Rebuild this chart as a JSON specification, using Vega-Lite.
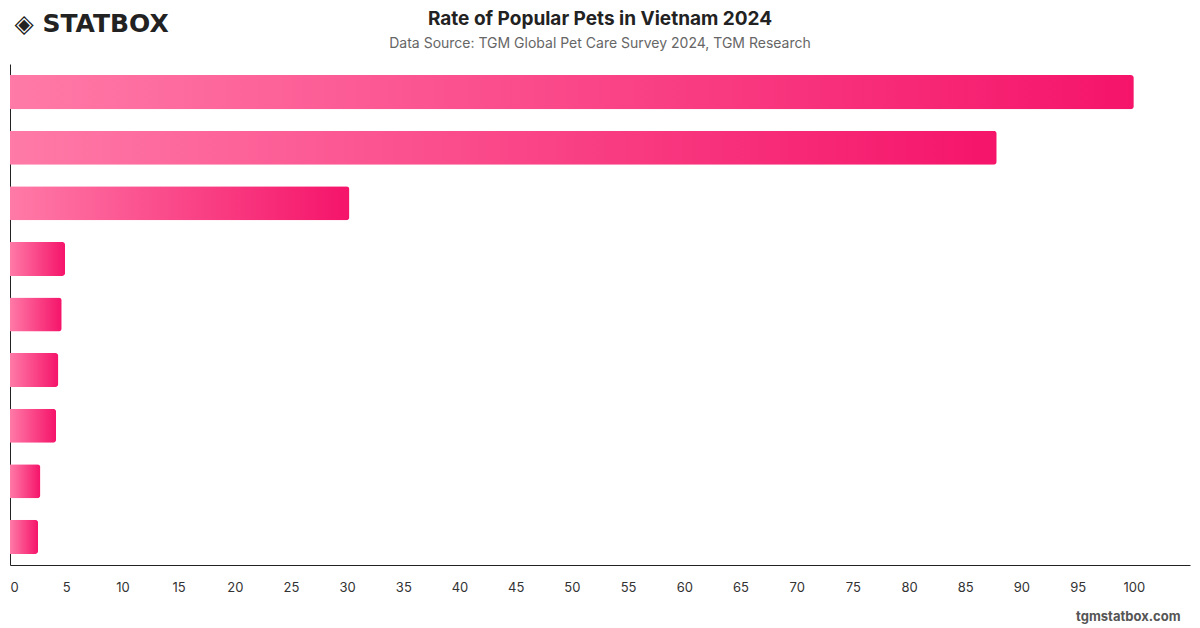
{
  "$schema": "https://vega.github.io/schema/vega-lite/v6.json",
  "width": 1180,
  "height": 501,
  "autosize": {"type": "none"},
  "padding": {"left": 10, "top": 64, "right": 10, "bottom": 63},
  "background": "white",
  "title": {
    "text": "Rate of Popular Pets in Vietnam 2024",
    "subtitle": "Data Source: TGM Global Pet Care Survey 2024, TGM Research",
    "anchor": "middle",
    "font": "Inter",
    "fontSize": 19,
    "fontWeight": "bold",
    "color": "#222222",
    "subtitleFont": "Inter",
    "subtitleFontSize": 14,
    "subtitleColor": "#666666",
    "subtitlePadding": 8,
    "offset": -40
  },
  "data": {
    "values": [
      {"pet": "Dogs", "rate": 100},
      {"pet": "Cats", "rate": 87.8},
      {"pet": "Fish", "rate": 30.2},
      {"pet": "Birds", "rate": 4.9},
      {"pet": "Hamsters", "rate": 4.6},
      {"pet": "Rabbits", "rate": 4.3},
      {"pet": "Reptiles", "rate": 4.1},
      {"pet": "Guinea pigs", "rate": 2.7},
      {"pet": "Others", "rate": 2.5}
    ]
  },
  "mark": {
    "type": "bar",
    "cornerRadiusEnd": 3,
    "color": {
      "gradient": "linear",
      "x1": 0, "y1": 0, "x2": 1, "y2": 0,
      "stops": [
        {"offset": 0, "color": "#ff7aa7"},
        {"offset": 1, "color": "#f5146a"}
      ]
    }
  },
  "encoding": {
    "y": {
      "field": "pet",
      "type": "nominal",
      "sort": null,
      "scale": {"paddingInner": 0.387, "paddingOuter": 0.2},
      "axis": {
        "labels": false,
        "ticks": false,
        "domainColor": "#222222",
        "title": "◈ STATBOX",
        "titleAngle": 0,
        "titleAlign": "left",
        "titleBaseline": "alphabetic",
        "titleX": 4,
        "titleY": -33,
        "titleFont": "DejaVu Sans",
        "titleFontSize": 25,
        "titleFontWeight": "bold",
        "titleColor": "#222222"
      }
    },
    "x": {
      "field": "rate",
      "type": "quantitative",
      "scale": {"domain": [0, 105], "nice": false},
      "axis": {
        "values": [0, 5, 10, 15, 20, 25, 30, 35, 40, 45, 50, 55, 60, 65, 70, 75, 80, 85, 90, 95, 100],
        "grid": false,
        "ticks": false,
        "domainColor": "#222222",
        "labelFont": "Inter",
        "labelFontSize": 13,
        "labelColor": "#333333",
        "labelPadding": 16,
        "title": "tgmstatbox.com",
        "titleAnchor": "end",
        "titleAlign": "right",
        "titleBaseline": "alphabetic",
        "titleX": 1170,
        "titleY": 55,
        "titleFont": "Inter",
        "titleFontSize": 13,
        "titleFontWeight": "bold",
        "titleColor": "#555555"
      }
    }
  },
  "config": {"view": {"stroke": null}}
}
